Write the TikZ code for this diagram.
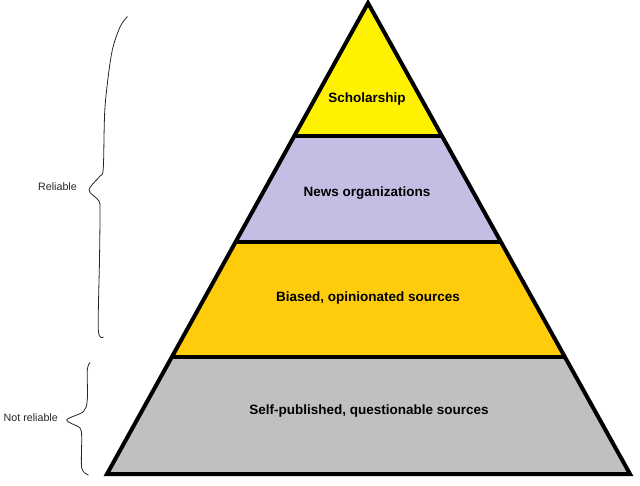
\documentclass[tikz,border=0pt]{standalone}
\usepackage{fontspec}
\setmainfont{Liberation Sans}
\usetikzlibrary{calc}
\definecolor{schol}{RGB}{255,242,0}
\definecolor{news}{RGB}{197,190,228}
\definecolor{biased}{RGB}{254,204,10}
\definecolor{selfpub}{RGB}{192,192,192}
\tikzset{
  band/.style={draw=none},
  divider/.style={draw=black, line width=3.5pt},
  outline/.style={draw=black, line width=4pt, line join=miter},
  bandlabel/.style={font=\fontsize{13.5}{16}\selectfont\bfseries, text=black, inner sep=0pt},
  sidelabel/.style={font=\fontsize{10.7}{13}\selectfont, text=black!85, inner sep=0pt, anchor=east},
  bracecurve/.style={draw=black!85, line width=0.8pt, line cap=round, line join=round}
}
\begin{document}
\begin{tikzpicture}[x=1pt,y=-1pt]
\useasboundingbox (0,0) rectangle (640,485);
\coordinate (A) at (368,3);
\coordinate (BL) at (107,474);
\coordinate (BR) at (630,474);
\coordinate (L1) at ($(A)!0.2824!(BL)$);
\coordinate (R1) at ($(A)!0.2824!(BR)$);
\coordinate (L2) at ($(A)!0.5074!(BL)$);
\coordinate (R2) at ($(A)!0.5074!(BR)$);
\coordinate (L3) at ($(A)!0.7516!(BL)$);
\coordinate (R3) at ($(A)!0.7516!(BR)$);
% bands
\fill[schol] (A) -- (R1) -- (L1) -- cycle;
\fill[news] (L1) -- (R1) -- (R2) -- (L2) -- cycle;
\fill[biased] (L2) -- (R2) -- (R3) -- (L3) -- cycle;
\fill[selfpub] (L3) -- (R3) -- (BR) -- (BL) -- cycle;
% dividers
\draw[divider] (L1) -- (R1);
\draw[divider] (L2) -- (R2);
\draw[divider] (L3) -- (R3);
% outline
\draw[outline] (A) -- (BR) -- (BL) -- cycle;
% labels
\node[bandlabel] (scholarship) at (367,99) {Scholarship};
\node[bandlabel] (newsorg) at (367,193) {News organizations};
\node[bandlabel] (biasedsrc) at (368,298) {Biased, opinionated sources};
\node[bandlabel] (selfpubsrc) at (369,411) {Self-published, questionable sources};
% side labels
\node[sidelabel] (reliable) at (77,187) {Reliable};
\node[sidelabel] (notreliable) at (58,418) {Not reliable};
% braces
\draw[bracecurve] plot[smooth, tension=0.5] coordinates {(127.3,16.7) (120,27) (111.7,53) (105,107) (103.3,168) (100,176) (89,190) (99,201) (100,212) (99.5,260) (98.3,330) (103.3,337)};
\draw[bracecurve] plot[smooth, tension=0.5] coordinates {(90,362.7) (87.3,370) (87.3,400) (83.3,411.7) (66.7,420) (80,428) (81.7,438) (81.7,468) (88.3,475)};
\end{tikzpicture}
\end{document}
